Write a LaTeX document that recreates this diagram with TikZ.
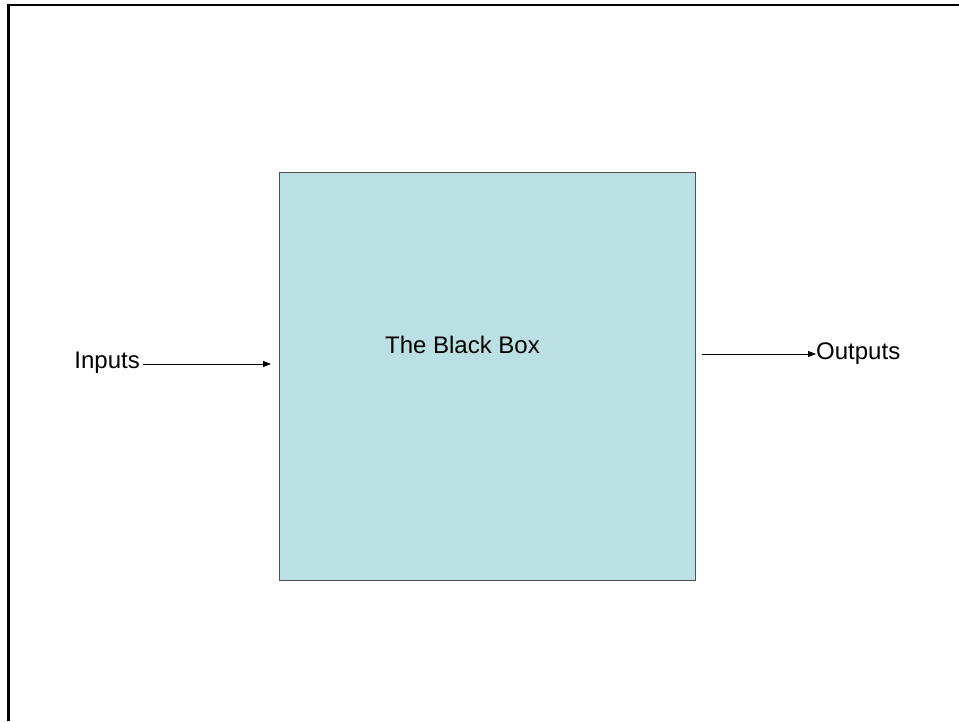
\documentclass[tikz,border=0pt]{standalone}
\usepackage{fontspec}
\setmainfont{Liberation Sans}
\usetikzlibrary{arrows.meta}
\definecolor{boxfill}{HTML}{BBE0E3}
\definecolor{boxline}{HTML}{505050}
\begin{document}
\begin{tikzpicture}[x=1pt,y=-1pt,
  lbl/.style={inner sep=0pt,font=\fontsize{24}{28}\selectfont},
  conn/.style={line width=1pt,-{Triangle[length=8pt,width=6pt]}}]
\useasboundingbox (0,0) rectangle (959,721);
\draw[line width=2.2pt] (8.5,721) -- (8.5,5) -- (959,5);
\node[draw=boxline,fill=boxfill,line width=1pt,minimum width=416pt,minimum height=408pt,anchor=north west,inner sep=0pt] (box) at (278.5,171.5) {};
\node[lbl] (title) at (462.5,345) {The Black Box};
\node[lbl,anchor=east] (inp) at (140,363) {Inputs};
\node[lbl,anchor=west] (outp) at (816,354) {Outputs};
\coordinate (inend) at (271,364);
\coordinate (outstart) at (702,354);
\draw[conn] (inp.east |- inend) ++(3,0) -- (inend);
\draw[conn] (outstart) -- (outp.west |- outstart);
\end{tikzpicture}
\end{document}
